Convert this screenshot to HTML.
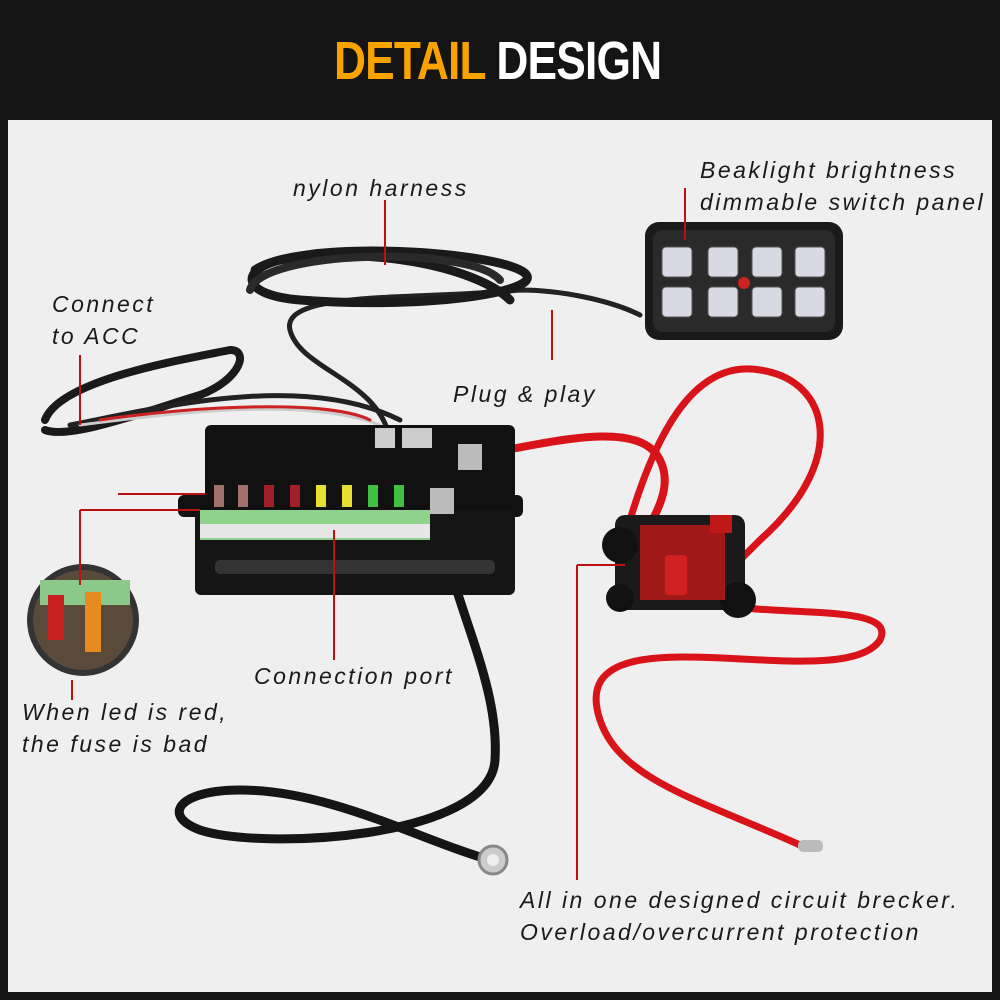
<!DOCTYPE html>
<html><head><meta charset="utf-8"><style>
html,body{margin:0;padding:0;width:1000px;height:1000px;overflow:hidden;background:#141414}
.t{position:absolute;font-family:"Liberation Sans",sans-serif;font-style:italic;font-size:23px;color:#1a1a1a;letter-spacing:2.5px;line-height:32px;white-space:nowrap}
</style></head><body>
<div style="position:absolute;left:8px;top:120px;width:984px;height:872px;background:#efefef"></div>
<div style="position:absolute;left:334px;top:30px;font-family:'Liberation Sans',sans-serif;font-weight:bold;font-size:54px;letter-spacing:-1px;transform:scaleX(0.82);transform-origin:left;white-space:nowrap"><span style="color:#f8a300">DETAIL</span> <span style="color:#fff">DESIGN</span></div>
<svg style="position:absolute;left:0;top:0" width="1000" height="1000">
<g fill="none" stroke-linecap="round">
<path d="M390 440 C380 380 300 370 290 330 C280 290 420 300 520 290 C560 290 610 300 640 315" stroke="#222" stroke-width="5"/>
<path d="M255 270 C300 240 480 250 520 270 C560 290 430 310 300 300 C240 295 240 270 280 260 C380 245 480 270 510 300" stroke="#1a1a1a" stroke-width="9"/>
<path d="M250 290 C260 250 470 245 500 280" stroke="#2a2a2a" stroke-width="8"/>
<path d="M45 420 C60 380 180 360 230 350 C250 350 240 380 200 395 C150 410 70 440 45 430" stroke="#1a1a1a" stroke-width="8"/>
<path d="M70 425 C150 410 300 370 400 420" stroke="#222" stroke-width="5"/>
<path d="M80 425 C160 415 300 395 380 425" stroke="#ccc" stroke-width="3"/>
<path d="M100 420 C200 405 330 400 370 420" stroke="#c22" stroke-width="3"/>
<path d="M440 520 C450 600 500 680 495 760 C490 840 260 850 200 830 C160 815 180 790 240 790 C330 790 420 840 490 860" stroke="#151515" stroke-width="9"/>
<path d="M480 455 C560 440 640 420 660 460 C680 500 630 540 640 560" stroke="#d8141a" stroke-width="8"/>
<path d="M630 520 C660 420 700 360 760 370 C830 380 850 460 760 540 C740 560 730 570 720 580" stroke="#d8141a" stroke-width="7"/>
<path d="M700 600 C760 620 900 600 880 640 C840 700 560 600 600 720 C620 780 700 800 800 845" stroke="#d8141a" stroke-width="7"/>
</g>
<rect x="645" y="222" width="198" height="118" rx="14" fill="#1a1a1a"/>
<rect x="653" y="230" width="182" height="102" rx="10" fill="#2a2a2a"/>
<g fill="#d9d9e4" stroke="#555" stroke-width="1">
<rect x="662" y="247" width="30" height="30" rx="4"/><rect x="708" y="247" width="30" height="30" rx="4"/><rect x="752" y="247" width="30" height="30" rx="4"/><rect x="795" y="247" width="30" height="30" rx="4"/>
<rect x="662" y="287" width="30" height="30" rx="4"/><rect x="708" y="287" width="30" height="30" rx="4"/><rect x="752" y="287" width="30" height="30" rx="4"/><rect x="795" y="287" width="30" height="30" rx="4"/>
</g>
<circle cx="744" cy="283" r="6" fill="#c22"/>
<rect x="205" y="425" width="310" height="90" rx="6" fill="#111"/>
<rect x="178" y="495" width="345" height="22" rx="6" fill="#111"/>
<rect x="195" y="510" width="320" height="85" rx="6" fill="#151515"/>
<rect x="215" y="560" width="280" height="14" rx="5" fill="#333"/>
<rect x="200" y="510" width="230" height="30" fill="#8ed28e"/>
<rect x="200" y="524" width="230" height="14" fill="#e6e6e6"/>
<g>
<rect x="214" y="485" width="10" height="22" fill="#a0706a"/><rect x="238" y="485" width="10" height="22" fill="#a0706a"/>
<rect x="264" y="485" width="10" height="22" fill="#a02028"/><rect x="290" y="485" width="10" height="22" fill="#a02028"/>
<rect x="316" y="485" width="10" height="22" fill="#e8e030"/><rect x="342" y="485" width="10" height="22" fill="#e8e030"/>
<rect x="368" y="485" width="10" height="22" fill="#40c040"/><rect x="394" y="485" width="10" height="22" fill="#40c040"/>
</g>
<rect x="375" y="428" width="20" height="20" fill="#ccc"/><rect x="402" y="428" width="30" height="20" fill="#ccc"/>
<rect x="458" y="444" width="24" height="26" fill="#bbb"/><rect x="430" y="488" width="24" height="26" fill="#bbb"/>
<rect x="615" y="515" width="130" height="95" rx="10" fill="#1a1a1a"/>
<circle cx="620" cy="545" r="18" fill="#111"/><circle cx="738" cy="600" r="18" fill="#111"/><circle cx="620" cy="598" r="14" fill="#111"/>
<rect x="640" y="525" width="85" height="75" fill="#a01818"/>
<rect x="665" y="555" width="22" height="40" rx="3" fill="#d02020"/>
<rect x="710" y="515" width="22" height="18" fill="#c01818"/>
<circle cx="493" cy="860" r="14" fill="#ccc" stroke="#888" stroke-width="3"/><circle cx="493" cy="860" r="6" fill="#efefef"/>
<rect x="798" y="840" width="25" height="12" rx="5" fill="#bbb"/>
<circle cx="83" cy="620" r="56" fill="#333"/>
<circle cx="83" cy="620" r="50" fill="#5a4a3a"/>
<rect x="40" y="580" width="90" height="25" fill="#8bc98b"/>
<rect x="48" y="595" width="16" height="45" fill="#c82020"/><rect x="85" y="592" width="16" height="60" fill="#e88a20"/>
<g stroke="#b11" stroke-width="2" fill="none">
<path d="M385 200 V265"/><path d="M685 188 V240"/><path d="M552 310 V360"/>
<path d="M80 355 V425"/><path d="M118 494 H205"/><path d="M80 510 H200"/><path d="M80 510 V585"/>
<path d="M72 680 V700"/><path d="M334 530 V660"/><path d="M577 565 H625"/><path d="M577 565 V880"/>
</g>
</svg>
<div class="t" style="left:293px;top:172px">nylon harness</div>
<div class="t" style="left:700px;top:154px">Beaklight brightness<br>dimmable switch panel</div>
<div class="t" style="left:52px;top:288px">Connect<br>to ACC</div>
<div class="t" style="left:453px;top:378px">Plug &amp; play</div>
<div class="t" style="left:254px;top:660px">Connection port</div>
<div class="t" style="left:22px;top:696px">When led is red,<br>the fuse is bad</div>
<div class="t" style="left:520px;top:884px">All in one designed circuit brecker.<br>Overload/overcurrent protection</div>
</body></html>
